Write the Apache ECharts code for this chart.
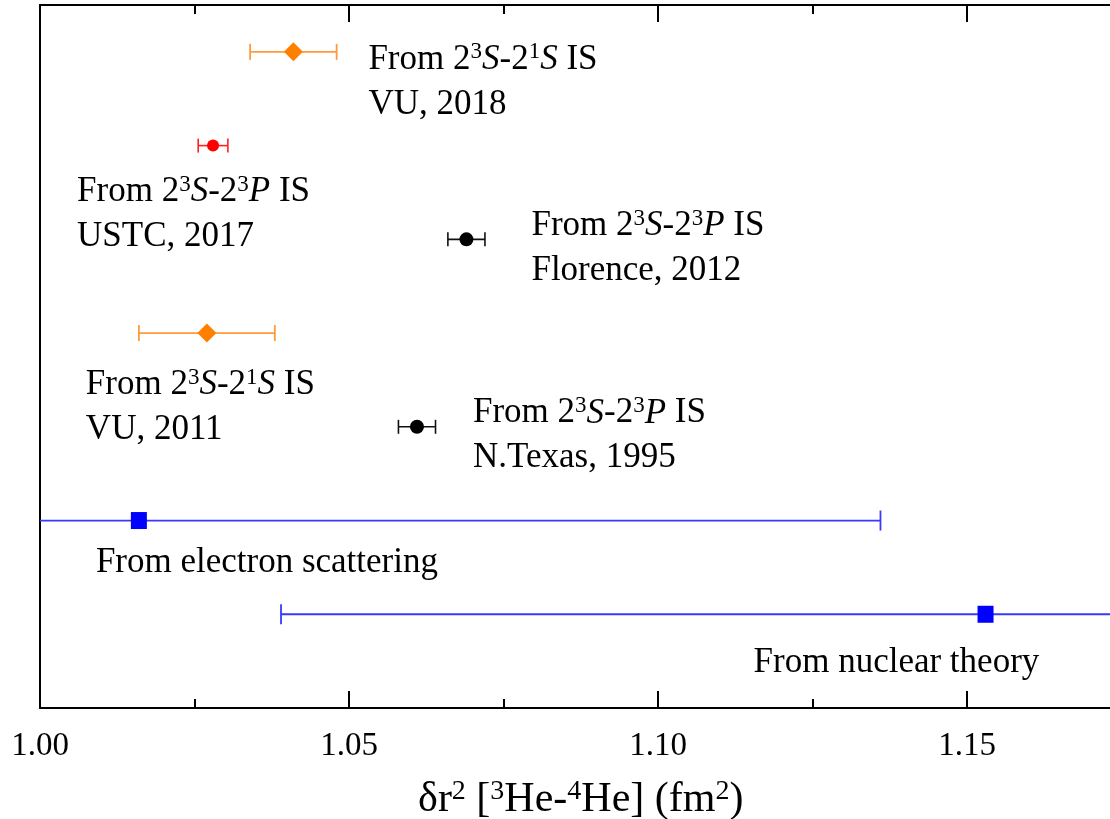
<!DOCTYPE html>
<html>
<head>
<meta charset="utf-8">
<script src="https://cdn.jsdelivr.net/npm/echarts@6/dist/echarts.min.js"></script>
<style>
  html, body { margin: 0; padding: 0; background: #fff; }
  #chart { width: 1110px; height: 819px; }
</style>
</head>
<body>
<div id="chart"></div>
<script>
// δr² (3He–4He) determinations, one row per result (top to bottom)
const rows      = [7, 6, 5, 4, 3, 2, 1];
const centers   = [1.041, 1.028, 1.069, 1.027, 1.061, 1.016, 1.153];
const errors    = [0.007, 0.0024, 0.003, 0.011, 0.003, 0.120, 0.114];
const kinds     = ['vu', 'ustc', 'is', 'vu', 'is', 'blue', 'blue'];
const noteLine1 = [
  'From 2{sup|3}{it|S}-2{sup|1}{it|S} IS',
  'From 2{sup|3}{it|S}-2{sup|3}{it|P} IS',
  'From 2{sup|3}{it|S}-2{sup|3}{it|P} IS',
  'From 2{sup|3}{it|S}-2{sup|1}{it|S} IS',
  'From 2{sup|3}{it|S}-2{sup|3}{it|P} IS',
  'From electron scattering',
  'From nuclear theory'
];
const noteLine2 = ['VU, 2018', 'USTC, 2017', 'Florence, 2012', 'VU, 2011', 'N.Texas, 1995', '', ''];
const xTicks = { min: 1.00, max: 1.175, major: 0.05, minor: 0.025 };

// marker / bar styles per kind
const styles = {
  vu:   { symbol: 'diamond', size: [19, 19], fill: '#FF8000', bar: '#FF9A3C', cap: 16, lw: 1.8 },
  ustc: { symbol: 'circle',  size: 12,       fill: '#FF0000', bar: '#FF2020', cap: 14, lw: 1.6 },
  is:   { symbol: 'circle',  size: 14,       fill: '#000000', bar: '#111111', cap: 14, lw: 1.6 },
  blue: { symbol: 'rect',    size: [16, 17], fill: '#0000FF', bar: '#3838FF', cap: 20, lw: 1.8 }
};
// text block offsets from each marker centre
const noteOffsets = [[75, -15], [-136, 24], [65, -36], [-121, 29], [56, -36], [-43, 20], [-232, 26]];

const FONT = 'Liberation Serif, Times New Roman, serif';
const richStyles = {
  sup: { fontSize: 23, fontFamily: FONT, color: '#000', padding: [0, 0, 14, 0] },
  it:  { fontSize: 35, fontFamily: FONT, color: '#000', fontStyle: 'italic' }
};

const barData = rows.map((r, i) => [centers[i], r, errors[i]]);
const pointData = rows.map((r, i) => {
  const st = styles[kinds[i]];
  const text = noteLine2[i] ? noteLine1[i] + '\n' + noteLine2[i] : noteLine1[i];
  return {
    value: [centers[i], r],
    symbol: st.symbol,
    symbolSize: st.size,
    itemStyle: { color: st.fill, opacity: 1 },
    label: {
      show: true,
      position: 'inside',
      align: 'left',
      verticalAlign: 'top',
      offset: noteOffsets[i],
      formatter: text,
      fontFamily: FONT,
      fontSize: 35,
      lineHeight: 45,
      color: '#000',
      opacity: 1,
      textBorderWidth: 0,
      rich: richStyles
    }
  };
});

const chart = echarts.init(document.getElementById('chart'), null, { renderer: 'canvas' });

const axisBase = { type: 'value', min: xTicks.min, max: xTicks.max, splitLine: { show: false } };

// the frame's right edge lies just past the visible area
chart.setOption({
  animation: false,
  backgroundColor: '#fff',
  grid: { left: 40, top: 5, bottom: 111, right: -11.5, containLabel: false, outerBoundsMode: 'none' },
  xAxis: [
    Object.assign({}, axisBase, {
      position: 'bottom', interval: xTicks.major,
      axisLine: { show: true, lineStyle: { color: '#000', width: 2 } },
      axisTick: { show: true, inside: true, length: 17, lineStyle: { color: '#000', width: 2 } },
      axisLabel: { show: true, margin: 22, fontFamily: FONT, fontSize: 33, color: '#000', showMaxLabel: false,
        formatter: v => v.toFixed(2) },
      name: 'δr{sup|2} [{sup|3}He-{sup|4}He] (fm{sup|2})',
      nameLocation: 'middle',
      nameGap: 70,
      nameTextStyle: { fontFamily: FONT, fontSize: 42, color: '#000', rich: {
        sup: { fontSize: 28, fontFamily: FONT, color: '#000', padding: [0, 0, 16, 0] } } }
    }),
    Object.assign({}, axisBase, {
      position: 'bottom', interval: xTicks.minor,
      axisLine: { show: false },
      axisTick: { show: true, inside: true, length: 9, lineStyle: { color: '#000', width: 2 } },
      axisLabel: { show: false }
    }),
    Object.assign({}, axisBase, {
      position: 'top', interval: xTicks.major,
      axisLine: { show: true, lineStyle: { color: '#000', width: 2 } },
      axisTick: { show: true, inside: true, length: 17, lineStyle: { color: '#000', width: 2 } },
      axisLabel: { show: false }
    }),
    Object.assign({}, axisBase, {
      position: 'top', interval: xTicks.minor,
      axisLine: { show: false },
      axisTick: { show: true, inside: true, length: 9, lineStyle: { color: '#000', width: 2 } },
      axisLabel: { show: false }
    })
  ],
  yAxis: {
    type: 'value', min: 0, max: 7.5,
    axisLine: { show: true, lineStyle: { color: '#000', width: 2 } },
    axisTick: { show: false }, axisLabel: { show: false }, splitLine: { show: false }
  },
  series: [
    {
      type: 'custom',
      clip: true,
      data: barData,
      encode: { x: 0, y: 1 },
      renderItem: function (params, api) {
        const st = styles[kinds[params.dataIndex]];
        const x = api.value(0), y = api.value(1), e = api.value(2);
        const lo = api.coord([x - e, y]);
        const hi = api.coord([x + e, y]);
        const h = st.cap / 2;
        const s = { stroke: st.bar, lineWidth: st.lw };
        return {
          type: 'group',
          children: [
            { type: 'line', shape: { x1: lo[0], y1: lo[1], x2: hi[0], y2: hi[1] }, style: s },
            { type: 'line', shape: { x1: lo[0], y1: lo[1] - h, x2: lo[0], y2: lo[1] + h }, style: s },
            { type: 'line', shape: { x1: hi[0], y1: hi[1] - h, x2: hi[0], y2: hi[1] + h }, style: s }
          ]
        };
      },
      z: 2
    },
    {
      type: 'scatter',
      data: pointData,
      z: 3
    }
  ]
});
</script>
</body>
</html>
